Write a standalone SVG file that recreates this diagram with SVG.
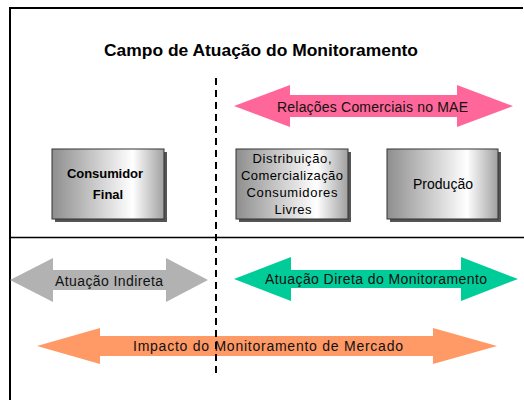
<svg xmlns="http://www.w3.org/2000/svg" width="524" height="400" viewBox="0 0 524 400">
<defs>
<linearGradient id="boxGrad" x1="0" y1="0" x2="1" y2="0">
<stop offset="0" stop-color="#8e8e8e"/>
<stop offset="0.72" stop-color="#ffffff"/>
<stop offset="1" stop-color="#a0a0a0"/>
</linearGradient>
<style>
.frame{stroke:#000;stroke-width:2;fill:none}
.sep{stroke:#000;stroke-width:1.5;fill:none}
.dash{stroke:#000;stroke-width:2;stroke-dasharray:7 5;fill:none}
.box{fill:url(#boxGrad);stroke:#333;stroke-width:1}
.shadow{fill:#555}
.t{font-family:"Liberation Sans",Arial,sans-serif;fill:#000;text-anchor:middle}
.b{font-weight:bold}
.at{font-family:"Liberation Sans",Arial,sans-serif;fill:#111;text-anchor:middle;font-size:14px}
</style>
</defs>
<rect width="524" height="400" fill="#fff"/>
<path class="frame" d="M10,400 V8 H523"/>
<line class="sep" x1="10" y1="237.5" x2="524" y2="237.5"/>
<text class="t b" x="261" y="56" font-size="17.4" textLength="314" lengthAdjust="spacingAndGlyphs">Campo de Atuação do Monitoramento</text>

<g id="arrow-relacoes">
<polygon fill="#ff6699" points="234,106 290,85 290,95 457,95 457,85 513,106 457,127 457,117 290,117 290,127"/>
<text class="at" x="372.5" y="112" textLength="191" lengthAdjust="spacing">Relações Comerciais no MAE</text>
</g>

<g id="node-consumidor">
<rect class="shadow" x="55" y="152" width="112" height="70"/>
<rect class="box" x="52" y="149" width="112" height="70"/>
<text class="t b" x="105" y="178" font-size="13" textLength="76" lengthAdjust="spacing">Consumidor</text>
<text class="t b" x="108" y="199" font-size="13">Final</text>
</g>

<g id="node-distribuicao">
<rect class="shadow" x="239" y="152" width="112" height="70"/>
<rect class="box" x="236" y="149" width="112" height="70"/>
<text class="t" x="292" y="163" font-size="13" textLength="79" lengthAdjust="spacing">Distribuição,</text>
<text class="t" x="292" y="180" font-size="13" textLength="102" lengthAdjust="spacing">Comercialização</text>
<text class="t" x="292" y="197" font-size="13" textLength="91" lengthAdjust="spacing">Consumidores</text>
<text class="t" x="293" y="214" font-size="13" textLength="37" lengthAdjust="spacing">Livres</text>
</g>

<g id="node-producao">
<rect class="shadow" x="390" y="152" width="111" height="70"/>
<rect class="box" x="387" y="149" width="111" height="70"/>
<text class="t" x="443" y="189" font-size="14" textLength="60" lengthAdjust="spacing">Produção</text>
</g>

<g id="arrow-indireta">
<polygon fill="#b2b2b2" points="10,280 53,258 53,270 166,270 166,258 208,280 166,302 166,290 53,290 53,302"/>
<text class="at" x="109" y="286" textLength="108" lengthAdjust="spacing">Atuação Indireta</text>
</g>

<g id="arrow-direta">
<polygon fill="#00cc99" points="234,279 291,257 291,270 461,270 461,257 518,279 461,301 461,288 291,288 291,301"/>
<text class="at" x="376" y="284" textLength="222" lengthAdjust="spacing">Atuação Direta do Monitoramento</text>
</g>

<g id="arrow-impacto">
<polygon fill="#ff9966" points="37,346 100,328 100,336 433,336 433,328 497,346 433,364 433,356 100,356 100,364"/>
<text class="at" x="268" y="351" textLength="270" lengthAdjust="spacing">Impacto do Monitoramento de Mercado</text>
</g>

<g id="connectors">
<line class="dash" x1="216" y1="78" x2="216" y2="378"/>
</g>
</svg>
